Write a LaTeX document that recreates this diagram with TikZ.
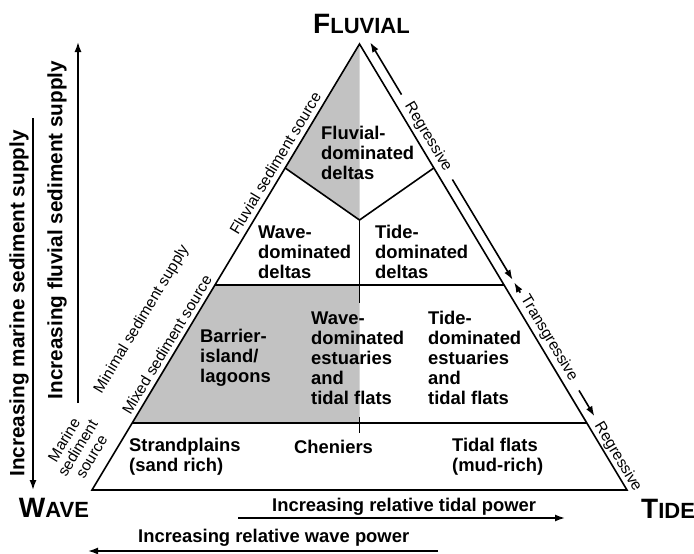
\documentclass[tikz,border=0pt]{standalone}
\usepackage{fontspec}
\setmainfont{Liberation Sans}
\usetikzlibrary{arrows.meta,calc}

\definecolor{fillgray}{RGB}{194,194,194}
\newcommand{\capname}[2]{{\fontsize{28}{28}\selectfont #1}{\fontsize{22}{22}\selectfont #2}}

\begin{document}
\begin{tikzpicture}[
    x=1pt, y=-1pt,
    edge/.style={line width=1.6pt, line join=miter},
    arrow/.style={-{Latex[length=10pt,width=7pt]}, line width=1.6pt},
    env/.style={inner sep=0pt, align=left, font=\fontsize{18.4}{20}\selectfont\bfseries},
    side/.style={inner sep=0pt, align=center, font=\fontsize{15.5}{16}\selectfont},
    axis/.style={inner sep=0pt, font=\fontsize{18.4}{20}\selectfont\bfseries},
    supply/.style={inner sep=0pt, rotate=90, font=\fontsize{20.7}{22}\selectfont\bfseries},
    endmember/.style={inner sep=0pt, font=\bfseries}
]
\useasboundingbox (0,0) rectangle (694,554);

% corners of the triangle
\coordinate (F) at (359.5,44);
\coordinate (W) at (92,490);
\coordinate (T) at (627,490);
\coordinate (J) at (359.5,220);
\coordinate (L1) at ($(W)!0.722!(F)$);
\coordinate (R1) at ($(T)!0.722!(F)$);
\coordinate (L2) at ($(W)!0.4596!(F)$);
\coordinate (R2) at ($(T)!0.4596!(F)$);
\coordinate (L3) at ($(W)!0.1502!(F)$);
\coordinate (R3) at ($(T)!0.1502!(F)$);
\coordinate (M2) at (359.5,285);
\coordinate (M3) at (359.5,423);

% shaded parts
\fill[fillgray] (F) -- (L1) -- (J) -- cycle;
\fill[fillgray] (L2) -- (M2) -- (M3) -- (L3) -- cycle;

% outline and dividers
\draw[edge] (W) -- (F) -- (T) -- cycle;
\draw[edge] (L1) -- (J) -- (R1);
\draw[edge] (J) -- (359.5,303);
\draw[edge] (L2) -- (R2);
\draw[edge] (L3) -- (R3);
\draw[edge] (359.5,417) -- (359.5,433);

% end members
\node[endmember, anchor=base] (fluvial) at (361.5,34) {\capname{F}{LUVIAL}};
\node[endmember, anchor=base] (wave) at (54,517) {\capname{W}{AVE}};
\node[endmember, anchor=base west] (tide) at (641,518) {\capname{T}{IDE}};

% environments
\node[env, anchor=west] (fdelta) at (321,153) {Fluvial-\\dominated\\deltas};
\node[env, anchor=west] (wdelta) at (258,252) {Wave-\\dominated\\deltas};
\node[env, anchor=west] (tdelta) at (375,252) {Tide-\\dominated\\deltas};
\node[env, anchor=west] (barrier) at (200,358) {Barrier-\\island/\\lagoons};
\node[env, anchor=west] (westuary) at (311,358) {Wave-\\dominated\\estuaries\\and\\tidal flats};
\node[env, anchor=west] (testuary) at (428,358) {Tide-\\dominated\\estuaries\\and\\tidal flats};
\node[env, anchor=west] (strand) at (129,457) {Strandplains\\(sand rich)};
\node[env, anchor=west] (chenier) at (294,447) {Cheniers};
\node[env, anchor=west] (tflat) at (452,457) {Tidal flats\\(mud-rich)};

% sediment source labels on the left side
\node[side, rotate=59.04] (fsource) at (275.2,163.2) {Fluvial sediment source};
\node[side, rotate=59.04] (msource) at (166.8,344.8) {Mixed sediment source};
\node[side, rotate=59.04] (minimal) at (141.9,319.4) {Minimal sediment supply};
\node[side, rotate=59.04] (marine) at (77.5,448.1) {Marine\\sediment\\source};

% regressive / transgressive on the right side
\coordinate (r1a) at (370.2,42.3);
\coordinate (r1b) at (401.5,94.6);
\coordinate (r2a) at (452.4,179.5);
\coordinate (r2b) at (512.6,279.8);
\coordinate (t1a) at (520.3,292.7);
\coordinate (t1b) at (514.2,282.4);
\coordinate (t2a) at (579.0,390.4);
\coordinate (t2b) at (594.4,416.2);
\draw[arrow] (r1b) -- (r1a);
\draw[arrow] (r2a) -- (r2b);
\draw[arrow] (t1a) -- (t1b);
\draw[arrow] (t2a) -- (t2b);
\node[side, rotate=-59.04] (regr1) at (428.0,136.9) {Regressive};
\node[side, rotate=-59.04] (trans) at (548.9,338.4) {Transgressive};
\node[side, rotate=-59.04] (regr2) at (617.7,457.0) {Regressive};

% power and supply axes
\node[axis, anchor=west] (tidal) at (272,507) {Increasing relative tidal power};
\node[axis, anchor=west] (wavep) at (138,538) {Increasing relative wave power};
\coordinate (tp1) at (238,518);
\coordinate (tp2) at (565,518);
\coordinate (wp1) at (438,551);
\coordinate (wp2) at (88,551);
\draw[arrow] (tp1) -- (tp2);
\draw[arrow] (wp1) -- (wp2);

\node[supply] (fsupply) at (57,230) {Increasing fluvial sediment supply};
\node[supply] (msupply) at (19,303.5) {Increasing marine sediment supply};
\coordinate (fs1) at (78,403);
\coordinate (fs2) at (78,42);
\coordinate (ms1) at (33,118);
\coordinate (ms2) at (33,490);
\draw[arrow] (fs1) -- (fs2);
\draw[arrow] (ms1) -- (ms2);
\end{tikzpicture}
\end{document}
